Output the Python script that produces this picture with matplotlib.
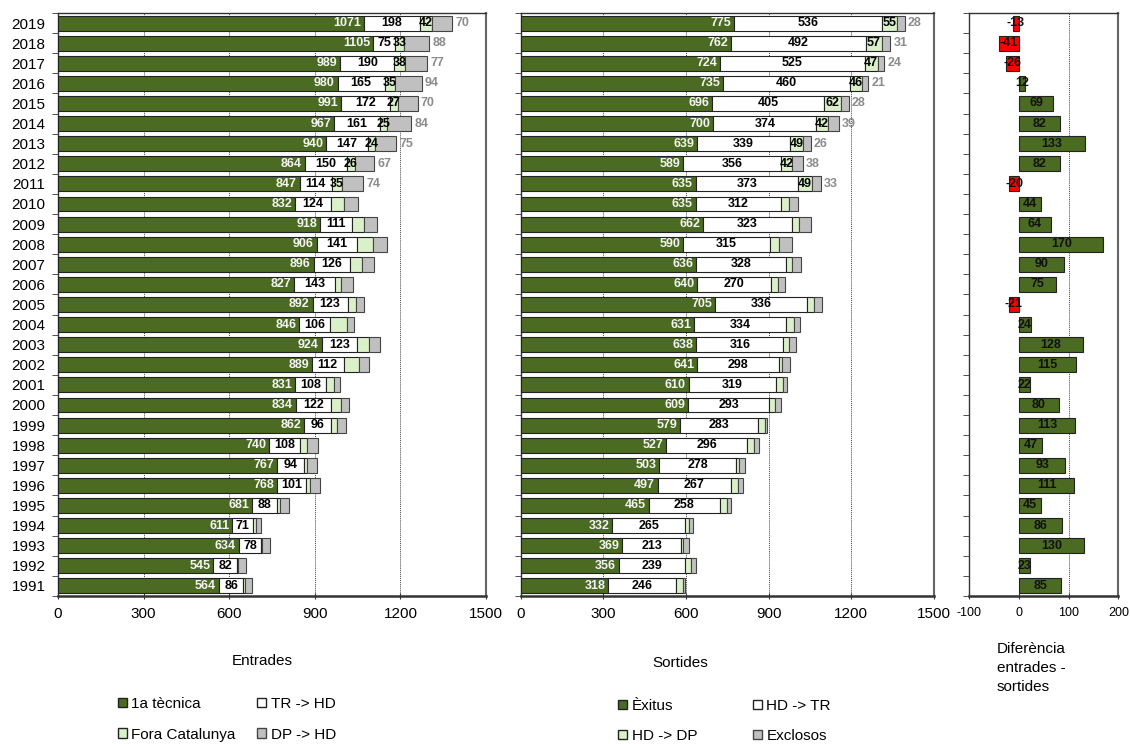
import numpy as np
import matplotlib.pyplot as plt
from matplotlib.patches import Patch

plt.rcParams['font.family'] = ['Liberation Sans', 'DejaVu Sans']
plt.rcParams['axes.unicode_minus'] = False

# Data (1991 -> 2019)
years = list(range(1991, 2020))
primera = [564, 545, 634, 611, 681, 768, 767, 740, 862, 834, 831, 889, 924, 846, 892,
           827, 896, 906, 918, 832, 847, 864, 940, 967, 991, 980, 989, 1105, 1071]
tr_hd = [86, 82, 78, 71, 88, 101, 94, 108, 96, 122, 108, 112, 123, 106, 123,
         143, 126, 141, 111, 124, 114, 150, 147, 161, 172, 165, 190, 75, 198]
fora = [6, 3, 4, 13, 9, 15, 10, 26, 21, 37, 29, 54, 43, 62, 30,
        23, 42, 56, 45, 45, 35, 26, 24, 25, 27, 35, 38, 33, 42]
dp_hd = [25, 28, 27, 17, 30, 34, 36, 38, 29, 28, 20, 35, 37, 23, 27,
         40, 45, 51, 45, 51, 74, 67, 75, 84, 70, 94, 77, 88, 70]

exitus = [318, 356, 369, 332, 465, 497, 503, 527, 579, 609, 610, 641, 638, 631, 705,
          640, 636, 590, 662, 635, 635, 589, 639, 700, 696, 735, 724, 762, 775]
hd_tr = [246, 239, 213, 265, 258, 267, 278, 296, 283, 293, 319, 298, 316, 334, 336,
         270, 328, 315, 323, 312, 373, 356, 339, 374, 405, 460, 525, 492, 536]
hd_dp = [24, 23, 8, 15, 27, 24, 13, 25, 26, 22, 25, 11, 19, 27, 25,
         23, 23, 34, 26, 28, 49, 42, 49, 42, 62, 46, 47, 57, 55]
exclosos = [10, 18, 22, 15, 15, 21, 22, 18, 8, 20, 14, 27, 28, 23, 29,
            28, 31, 47, 45, 33, 33, 38, 26, 39, 28, 21, 24, 31, 28]

diff = [85, 23, 130, 86, 45, 111, 93, 47, 113, 80, 22, 115, 128, 24, -21,
        75, 90, 170, 64, 44, -20, 82, 133, 82, 69, 12, -26, -41, -13]

c_dark = '#4a6b21'
c_light = '#daf0c8'
c_gray = '#c0c0c0'
c_red = '#ff0000'

fig = plt.figure(figsize=(11.3, 7.44), dpi=100)
ax1 = fig.add_axes([0.0513, 0.199, 0.3788, 0.7835])
ax2 = fig.add_axes([0.4608, 0.199, 0.3655, 0.7835])
ax3 = fig.add_axes([0.8578, 0.199, 0.1319, 0.7835])

y = np.arange(len(years))
h = 0.74
lab = dict(fontsize=9, fontweight='bold', va='center', zorder=4)


def stacked(ax, s1, s2, s3, s4):
    s1, s2, s3, s4 = map(np.array, (s1, s2, s3, s4))
    ax.barh(y, s1, h, color=c_dark, edgecolor='#222222', lw=0.8, zorder=3)
    ax.barh(y, s2, h, left=s1, color='white', edgecolor='#222222', lw=0.8, zorder=3)
    ax.barh(y, s3, h, left=s1 + s2, color=c_light, edgecolor='#222222', lw=0.8, zorder=3)
    ax.barh(y, s4, h, left=s1 + s2 + s3, color=c_gray, edgecolor='#444444', lw=0.8, zorder=3)
    for i in y:
        ax.text(s1[i] - 10, i, str(s1[i]), ha='right', color='#f4f4f4', **lab)
        ax.text(s1[i] + s2[i] / 2, i, str(s2[i]), ha='center', color='black', **lab)
        if years[i] >= 2011:
            ax.text(s1[i] + s2[i] + s3[i] / 2, i, str(s3[i]), ha='center', color='black', **lab)
            ax.text(s1[i] + s2[i] + s3[i] + s4[i] + 12, i, str(s4[i]), ha='left',
                    color='#8c8c8c', **lab)
    ax.set_xlim(0, 1500)
    ax.set_xticks([0, 300, 600, 900, 1200, 1500])
    ax.xaxis.grid(True, color='#444444', ls=(0, (1, 1)), lw=0.7, zorder=0)


stacked(ax1, primera, tr_hd, fora, dp_hd)
stacked(ax2, exitus, hd_tr, hd_dp, exclosos)

d = np.array(diff)
ax3.barh(y, d, h, color=[c_dark if v > 0 else c_red for v in d],
         edgecolor='#222222', lw=0.8, zorder=3)
for i in y:
    ax3.text(d[i] / 2, i, str(d[i]), ha='center', color='#111111', **lab)
ax3.set_xlim(-100, 200)
ax3.set_xticks([-100, 0, 100, 200])
ax3.axvline(100, color='#444444', ls=(0, (1, 1)), lw=0.7, zorder=0)

for ax in (ax1, ax2, ax3):
    ax.set_ylim(-0.5, len(years) - 0.5)
    ax.set_yticks(y)
    ax.set_yticks(np.arange(-0.5, len(years), 1), minor=True)
    ax.tick_params(axis='y', which='major', length=0, pad=9)
    ax.tick_params(axis='y', which='minor', length=4, direction='out', color='#333333')
    ax.tick_params(axis='x', length=4, direction='inout', labelsize=11, pad=6, color='#333333')
    for s in ax.spines.values():
        s.set_color('#333333')
        s.set_linewidth(1.0)
    ax.spines['bottom'].set_linewidth(1.8)
    ax.spines['right'].set_linewidth(1.5)
    ax.spines['right'].set_color('#666666')

ax1.set_yticklabels(years, fontsize=11)
ax2.set_yticklabels([])
ax3.set_yticklabels([])
ax3.tick_params(axis='x', labelsize=9)

fig.text(0.232, 0.111, 'Entrades', ha='center', va='center', fontsize=11)
fig.text(0.602, 0.109, 'Sortides', ha='center', va='center', fontsize=11)
fig.text(0.882, 0.102, 'Diferència\nentrades -\nsortides', ha='left', va='center',
         fontsize=11, linespacing=1.45)

h1 = [Patch(facecolor=c_dark, edgecolor='#222222', label='1a tècnica'),
      Patch(facecolor=c_light, edgecolor='#222222', label='Fora Catalunya'),
      Patch(facecolor='white', edgecolor='#222222', label='TR -> HD'),
      Patch(facecolor=c_gray, edgecolor='#444444', label='DP -> HD')]
h2 = [Patch(facecolor=c_dark, edgecolor='#222222', label='Èxitus'),
      Patch(facecolor=c_light, edgecolor='#222222', label='HD -> DP'),
      Patch(facecolor='white', edgecolor='#222222', label='HD -> TR'),
      Patch(facecolor=c_gray, edgecolor='#444444', label='Exclosos')]
leg_kw = dict(ncol=2, frameon=False, fontsize=11, handlelength=0.6, handleheight=0.6,
              handletextpad=0.3)
fig.legend(handles=h1, loc='upper left', bbox_to_anchor=(0.092, 0.082),
           columnspacing=1.4, labelspacing=1.1, **leg_kw)
fig.legend(handles=h2, loc='upper left', bbox_to_anchor=(0.535, 0.079),
           columnspacing=3.6, labelspacing=1.05, **leg_kw)

fig.savefig('out.png', dpi=100)
